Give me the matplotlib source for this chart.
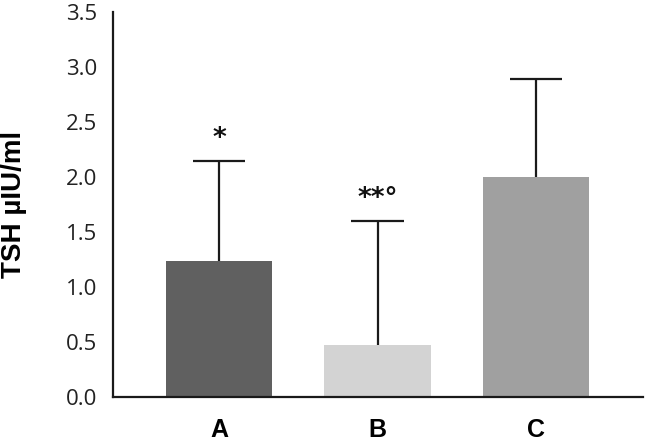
import matplotlib.pyplot as plt

# group data
groups = ['A', 'B', 'C']
tsh_mean = [1.24, 0.47, 2.00]
tsh_sd = [0.91, 1.13, 0.89]
bar_colors = ['#606060', '#d3d3d3', '#a0a0a0']
marks = ['*', '**°', '']

fig = plt.figure(figsize=(6.45, 4.44), dpi=100)
ax = fig.add_axes([0.175, 0.106, 0.822, 0.866])

x = list(range(len(groups)))
ax.bar(x, tsh_mean, width=0.67, color=bar_colors, zorder=2)

# upper half error bars only (stem + top cap)
tops = [m + s for m, s in zip(tsh_mean, tsh_sd)]
ax.vlines(x, tsh_mean, tops, color='#1a1a1a', lw=1.6, zorder=1)
ax.hlines(tops, [xi - 0.165 for xi in x], [xi + 0.165 for xi in x],
          color='#1a1a1a', lw=1.6, zorder=1)

# significance marks above error bars
for xi, t, mk in zip(x, tops, marks):
    if mk:
        ax.text(xi, t + 0.08, mk, ha='center', va='bottom',
                fontsize=19, fontweight='bold', family='DejaVu Sans',
                color='#111111')

ax.set_xlim(-0.67, 2.675)
ax.set_ylim(0, 3.5)
ax.set_yticks([0, 0.5, 1.0, 1.5, 2.0, 2.5, 3.0, 3.5])
ax.set_yticklabels([f'{v:.1f}' for v in ax.get_yticks()],
                   fontsize=16, family='Open Sans', color='#222222')
ax.set_xticks(x)
ax.set_xticklabels(groups, fontsize=18, fontweight='bold',
                   family='Liberation Sans')
ax.tick_params(axis='both', length=0)
ax.tick_params(axis='y', pad=11)
ax.tick_params(axis='x', pad=15)

ax.spines['right'].set_visible(False)
ax.spines['top'].set_visible(False)
ax.spines['left'].set_linewidth(1.6)
ax.spines['bottom'].set_linewidth(1.6)
ax.spines['left'].set_color('#1a1a1a')
ax.spines['bottom'].set_color('#1a1a1a')

ax.set_ylabel('TSH µIU/ml', fontsize=20, fontweight='bold',
              family='Liberation Sans', labelpad=28)

fig.savefig('out.png', dpi=100)
